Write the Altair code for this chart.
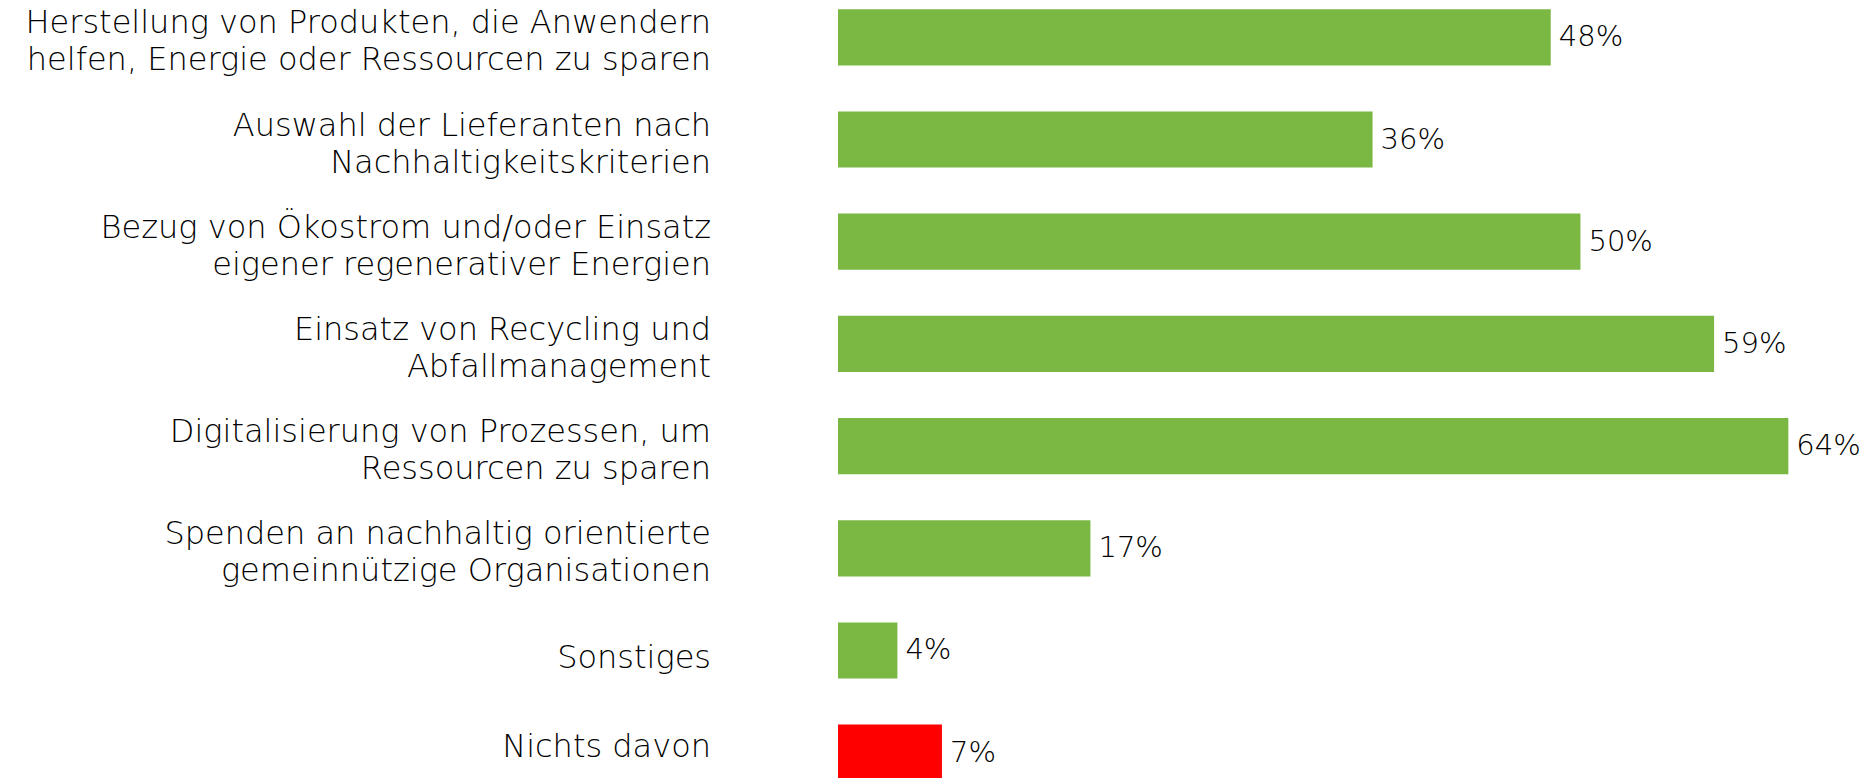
import altair as alt
import pandas as pd

categories = [
    "Herstellung von Produkten, die Anwendern\nhelfen, Energie oder Ressourcen zu sparen",
    "Auswahl der Lieferanten nach\nNachhaltigkeitskriterien",
    "Bezug von Ökostrom und/oder Einsatz\neigener regenerativer Energien",
    "Einsatz von Recycling und\nAbfallmanagement",
    "Digitalisierung von Prozessen, um\nRessourcen zu sparen",
    "Spenden an nachhaltig orientierte\ngemeinnützige Organisationen",
    "Sonstiges",
    "Nichts davon",
]
values = [48, 36, 50, 59, 64, 17, 4, 7]
groups = ["ja", "ja", "ja", "ja", "ja", "ja", "ja", "nein"]

df = pd.DataFrame({"cat": categories, "val": values, "grp": groups})
df["lbl"] = df["val"].astype(str) + "%"
parts = df["cat"].str.split("\n")
df["n"] = parts.str.len()
df["l1"] = parts.str[0]
df["l2"] = parts.str[-1]

FONT = "DejaVu Sans"
TXT = "#000000"
W = 300

y = alt.Y("cat:N", sort=categories, axis=None,
          scale=alt.Scale(paddingInner=0.45, paddingOuter=0.09))
x = alt.X("val:Q", axis=None, scale=alt.Scale(domain=[0, 69.5], nice=False, zero=True))

base = alt.Chart(df)

bars = base.mark_bar().encode(
    x=x, y=y,
    color=alt.Color("grp:N", scale=alt.Scale(domain=["ja", "nein"], range=["#7AB843", "#FF0000"]), legend=None),
)

pct = base.mark_text(align="left", baseline="middle", dx=8, font=FONT, fontSize=29,
                     fontWeight=W, color=TXT).encode(x=x, y=y, text="lbl:N")

def lab(flt, field, dy):
    return base.transform_filter(flt).mark_text(
        align="right", baseline="middle", font=FONT, fontSize=32, fontWeight=W,
        color=TXT, dy=dy).encode(x=alt.value(-127), y=y, text=f"{field}:N")

sonst = lab(alt.datum.cat == "Sonstiges", "l1", 8)
nichts = lab(alt.datum.cat == "Nichts davon", "l1", -6)
first = lab(alt.datum.n == 2, "l1", -14)
second = lab(alt.datum.n == 2, "l2", 23)

chart = (bars + pct + sonst + nichts + first + second).properties(
    width=1032, height=790,
    padding={"left": 838, "top": 0, "right": 0, "bottom": 0},
    autosize=alt.AutoSizeParams(type="none"),
).configure_view(stroke=None)

chart.save("out.html", embed_options={"renderer": "svg", "actions": False})
